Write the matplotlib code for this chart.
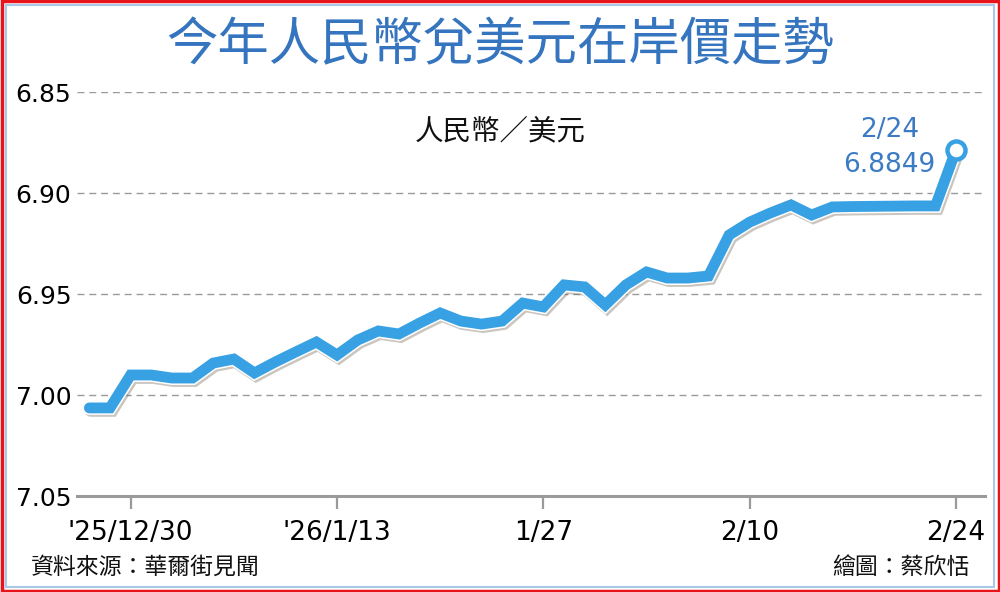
import matplotlib
matplotlib.use("Agg")
import matplotlib.pyplot as plt
import matplotlib.patheffects as pe
from matplotlib.patches import Rectangle
import pandas as pd

# ---- data ----
dates = pd.bdate_range("2025-12-26", "2026-02-24")
values = [7.0064, 7.0064, 6.9901, 6.9901, 6.9916, 6.9916, 6.9842, 6.9822, 6.9891, 6.9837,
          6.9787, 6.9738, 6.9802, 6.9728, 6.9683, 6.9698, 6.9644, 6.9594, 6.9634, 6.9649,
          6.9634, 6.9545, 6.9564, 6.9455, 6.9465, 6.9554, 6.9455, 6.9391, 6.9421, 6.9421,
          6.9411, 6.9208, 6.9144, 6.9099, 6.9059, 6.9109, 6.9069, 6.9067, 6.9066, 6.9065,
          6.9064, 6.9064, 6.8785]
tick_dates = ["2025-12-30", "2026-01-13", "2026-01-27", "2026-02-10", "2026-02-24"]
tick_labels = ["'25/12/30", "'26/1/13", "1/27", "2/10", "2/24"]
y_ticks = [6.85, 6.90, 6.95, 7.00, 7.05]
y_labels = ["6.85", "6.90", "6.95", "7.00", "7.05"]
title = "今年人民幣兌美元在岸價走勢"
unit = "人民幣／美元"
source = "資料來源：華爾街見聞"
credit = "繪圖：蔡欣恬"
last_label = "2/24\n6.8849"

CJK = ["Noto Sans CJK TC", "DejaVu Sans"]
LINE = "#38A1E3"
TITLE_C = "#3574BE"

fig = plt.figure(figsize=(10, 5.92), dpi=100)
ax = fig.add_axes([0.077, 1 - 496 / 592, 0.908, (496 - 92) / 592])

idx = list(range(len(dates)))
ax.plot(idx, values, color=LINE, lw=7.8, solid_joinstyle="miter", solid_capstyle="round",
        zorder=3,
        path_effects=[pe.SimpleLineShadow(offset=(1.2, -1.4), shadow_color="#6a5a4a", alpha=0.35,
                                          linewidth=10.0),
                      pe.Stroke(linewidth=10.0, foreground="white"),
                      pe.Normal()])
ax.plot(idx[-1], values[-1], marker="o", ms=13, mfc="white", mec=LINE, mew=3.2, zorder=5)

ax.set_ylim(7.05, 6.85)
ax.set_xlim(-0.6, 43.4)
ax.set_yticks(y_ticks)
ax.set_yticklabels(y_labels, fontsize=18, family="DejaVu Sans")
ax.tick_params(axis="y", length=0, pad=4)
pos = [list(dates.strftime("%Y-%m-%d")).index(d) for d in tick_dates]
ax.set_xticks(pos)
ax.set_xticklabels(tick_labels, fontsize=19, family="DejaVu Sans")
ax.tick_params(axis="x", length=9.5, width=1.6, color="#9a9a9a", pad=8)

for v in y_ticks[:-1]:
    ax.axhline(v, color="#9a9a9a", lw=1.0, ls=(0, (5, 3.5)), zorder=1)
for s in ["top", "right", "left"]:
    ax.spines[s].set_visible(False)
ax.spines["bottom"].set_color("#9a9a9a")
ax.spines["bottom"].set_linewidth(2.2)

ax.text(0.895, 0.862, last_label, transform=ax.transAxes, ha="center", va="center",
        fontsize=19, color="#3B7BC4", family="DejaVu Sans", linespacing=1.45)

fig.text(0.5, 1 - 45 / 592, title, ha="center", va="center", fontsize=37, color=TITLE_C,
         family=CJK, weight="medium")
fig.text(0.5, 1 - 131 / 592, unit, ha="center", va="center", fontsize=20.5, color="#111111",
         family=CJK)
fig.text(0.031, 1 - 567 / 592, source, ha="left", va="center", fontsize=16.5, color="#111111",
         family=CJK)
fig.text(0.969, 1 - 567 / 592, credit, ha="right", va="center", fontsize=16.5, color="#111111",
         family=CJK)

# frame
fig.patches.append(Rectangle((0.0015, 0.0025), 0.997, 0.995, transform=fig.transFigure,
                             fill=False, ec="#E8141B", lw=2.5))
fig.patches.append(Rectangle((0.006, 0.009), 0.988, 0.983, transform=fig.transFigure,
                             fill=False, ec="#A9C9E8", lw=1.5))

fig.savefig("out.png", dpi=100, facecolor="white")
